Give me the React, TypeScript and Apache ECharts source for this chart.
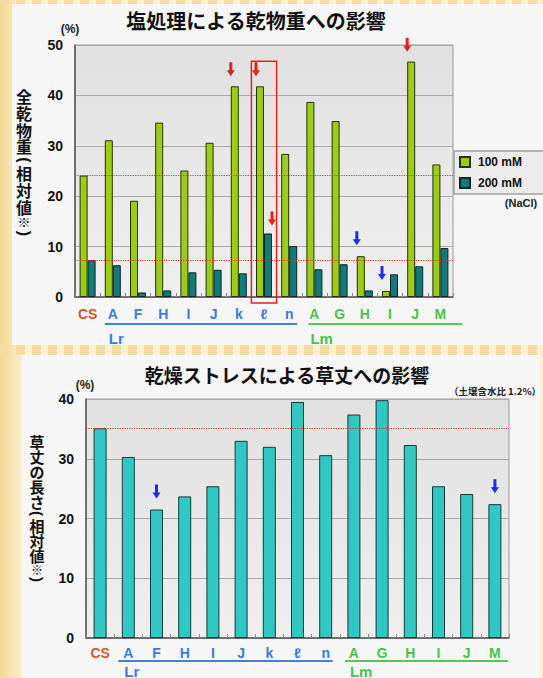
import React, { useEffect, useRef } from "react";
import * as echarts from "echarts";

// ---- data ----
const categories = ["CS", "Lr-A", "Lr-F", "Lr-H", "Lr-I", "Lr-J", "Lr-k", "Lr-ℓ", "Lr-n", "Lm-A", "Lm-G", "Lm-H", "Lm-I", "Lm-J", "Lm-M"];
const tickLabels = ["CS", "A", "F", "H", "I", "J", "k", "ℓ", "n", "A", "G", "H", "I", "J", "M"];
const tickGroups = ["cs", "lr", "lr", "lr", "lr", "lr", "lr", "lr", "lr", "lm", "lm", "lm", "lm", "lm", "lm"];
const groupNames = ["Lr", "Lm"];
const seriesNames = ["100 mM", "200 mM"];
const salt100 = [24.1, 31.1, 19.1, 34.6, 25.1, 30.6, 41.8, 41.8, 28.4, 38.7, 34.9, 8.1, 1.2, 46.7, 26.3];
const salt200 = [7.3, 6.3, 0.9, 1.3, 4.9, 5.4, 4.7, 12.6, 10.1, 5.5, 6.5, 1.3, 4.5, 6.1, 9.7];
const drought = [35.1, 30.3, 21.5, 23.7, 25.4, 33.0, 32.0, 39.5, 30.6, 37.4, 39.8, 32.3, 25.4, 24.1, 22.4];
const saltControlLines = [24.1, 7.2];
const droughtControlLines = [35.1];
const saltAxisTicks = [0, 10, 20, 30, 40, 50];
const droughtAxisTicks = [0, 10, 20, 30, 40];
const redArrows100 = ["Lr-k", "Lr-ℓ", "Lm-J"];
const blueArrows100 = ["Lm-H", "Lm-I"];
const redArrows200 = ["Lr-ℓ"];
const blueArrowsDrought = ["Lr-F", "Lm-M"];
const highlightedCategory = "Lr-ℓ";
const highlightTop = 46.8;

const saltTitle = "塩処理による乾物重への影響";
const droughtTitle = "乾燥ストレスによる草丈への影響";
const saltNote = "(NaCl)";
const droughtNote = "（土壌含水比 1.2%）";
const unitText = "(%)";
const saltYName = ["全", "乾", "物", "重", "(", "相", "対", "値", "※", ")"];
const droughtYName = ["草", "丈", "の", "長", "さ", "(", "相", "対", "値", "※", ")"];

const RED = "#e3221c";
const BLUE = "#1e2ee6";
const ARROW = "path://M2.5,0L5.5,0L5.5,8L8,8L4,14L0,8L2.5,8Z";
const LATIN = "'Liberation Sans', Arial, sans-serif";
const CJK = "'Noto Sans CJK JP', sans-serif";

function arrowPoints(cats: string[], values: number[], color: string, xOff: number, gap: number) {
  return cats.map((c) => ({
    coord: [c, values[categories.indexOf(c)]],
    symbolOffset: [xOff, -(gap + 7)],
    itemStyle: { color },
  }));
}

export default function App() {
  const ref = useRef<HTMLDivElement>(null);
  useEffect(() => {
    if (!ref.current) return;
    const chart = echarts.init(ref.current, undefined, { renderer: "svg" });
    const rich = {
      cs: { color: "#d5552f", fontSize: 14, fontWeight: "bold", fontFamily: LATIN },
      lr: { color: "#3a7bdc", fontSize: 14, fontWeight: "bold", fontFamily: LATIN },
      lm: { color: "#47c447", fontSize: 14, fontWeight: "bold", fontFamily: LATIN },
    };
    const fmt = (v: string) => {
      const i = categories.indexOf(v);
      return `{${tickGroups[i]}|${tickLabels[i]}}`;
    };
    const gridBg = new echarts.graphic.LinearGradient(0, 0, 0, 1, [
      { offset: 0, color: "#e1e1e1" },
      { offset: 1, color: "#efefef" },
    ]);
    const xAxisBase = {
      type: "category",
      data: categories,
      axisLine: { lineStyle: { color: "#555", width: 1.5 } },
      axisTick: { show: true, inside: true, length: 4, interval: 0, lineStyle: { color: "#888" } },
      axisLabel: { interval: 0, formatter: fmt, rich },
      splitLine: { show: false },
    };
    const yAxisBase = (max: number) => ({
      type: "value",
      min: 0,
      max,
      interval: 10,
      axisLine: { show: true, lineStyle: { color: "#555", width: 1.5 } },
      axisTick: { show: false },
      axisLabel: { fontSize: 14, fontWeight: "bold", color: "#111", fontFamily: LATIN, margin: 12 },
      splitLine: { show: true, lineStyle: { color: "#a9a9a9", width: 1 } },
    });
    const refLine = (vals: number[]) => ({
      silent: true,
      symbol: "none",
      label: { show: false },
      lineStyle: { color: "#e8302a", type: "dotted", width: 1.2 },
      data: vals.map((v) => ({ yAxis: v })),
    });

    chart.setOption({
      animation: false,
      backgroundColor: "#fbf0cc",
      grid: [
        { left: 75, top: 45, width: 378, height: 252, show: true, backgroundColor: gridBg, borderColor: "#9a9a9a", borderWidth: 1, outerBoundsMode: "none" },
        { left: 86, top: 399, width: 423, height: 239, show: true, backgroundColor: gridBg, borderColor: "#9a9a9a", borderWidth: 1, outerBoundsMode: "none" },
      ],
      xAxis: [
        { ...xAxisBase, gridIndex: 0, axisLabel: { ...xAxisBase.axisLabel, margin: 10 } },
        { ...xAxisBase, gridIndex: 1, axisLabel: { ...xAxisBase.axisLabel, margin: 8 } },
      ],
      yAxis: [
        { ...yAxisBase(saltAxisTicks[saltAxisTicks.length - 1]), gridIndex: 0 },
        { ...yAxisBase(droughtAxisTicks[droughtAxisTicks.length - 1]), gridIndex: 1 },
      ],
      legend: {
        data: seriesNames,
        orient: "vertical",
        left: 454,
        top: 151,
        itemWidth: 10,
        itemHeight: 10,
        itemGap: 9,
        padding: [5, 40, 5, 5],
        backgroundColor: "#ececec",
        borderColor: "#a0a0a0",
        borderWidth: 1.5,
        icon: "rect",
        textStyle: { fontSize: 12, fontWeight: "bold", color: "#111", fontFamily: LATIN, padding: [0, 0, 0, 3] },
      },
      series: [
        {
          name: seriesNames[0],
          type: "bar",
          xAxisIndex: 0,
          yAxisIndex: 0,
          data: salt100,
          barWidth: 8,
          barGap: "0%",
          itemStyle: { color: "#9dcc17", borderColor: "#24320c", borderWidth: 1 },
          markLine: refLine(saltControlLines),
          markPoint: {
            symbol: ARROW,
            symbolSize: [8, 14],
            label: { show: false },
            silent: true,
            data: [
              ...arrowPoints(redArrows100, salt100, RED, -4, 10),
              ...arrowPoints(blueArrows100, salt100, BLUE, -4, 11),
            ],
          },
        },
        {
          name: seriesNames[1],
          type: "bar",
          xAxisIndex: 0,
          yAxisIndex: 0,
          data: salt200,
          barWidth: 8,
          barGap: "0%",
          itemStyle: { color: "#127a7a", borderColor: "#0a2626", borderWidth: 1 },
          markPoint: {
            symbol: ARROW,
            symbolSize: [8, 14],
            label: { show: false },
            silent: true,
            data: arrowPoints(redArrows200, salt200, RED, 4, 8),
          },
        },
        {
          name: "草丈",
          type: "bar",
          xAxisIndex: 1,
          yAxisIndex: 1,
          data: drought,
          barWidth: 13,
          itemStyle: { color: "#31c7c2", borderColor: "#163a39", borderWidth: 1 },
          markLine: refLine(droughtControlLines),
          markPoint: {
            symbol: ARROW,
            symbolSize: [8, 14],
            label: { show: false },
            silent: true,
            data: arrowPoints(blueArrowsDrought, drought, BLUE, 0, 11),
          },
        },
      ],
    });

    // annotations derived from axes
    const px = (g: number, cat: string, v: number) =>
      chart.convertToPixel({ xAxisIndex: g, yAxisIndex: g }, [cat, v]) as number[];
    const catW = (g: number) => px(g, categories[1], 0)[0] - px(g, categories[0], 0)[0];
    const firstOf = (grp: string) => categories[tickGroups.indexOf(grp)];
    const lastOf = (grp: string) => categories[tickGroups.lastIndexOf(grp)];

    const graphics: any[] = [];
    // background decoration
    graphics.push({
      type: "rect", z: -20, silent: true,
      shape: { x: 0, y: 0, width: 24, height: 678 },
      style: { fill: new echarts.graphic.LinearGradient(0, 0, 1, 0, [{ offset: 0, color: "#f1d995" }, { offset: 1, color: "#fbf1d2" }]) },
    });
    graphics.push({
      type: "line", z: -19, silent: true,
      shape: { x1: 0, y1: 350, x2: 543, y2: 350 },
      style: { stroke: "#f2dea4", lineWidth: 10, lineDash: [9, 7] },
    });
    graphics.push({
      type: "line", z: -19, silent: true,
      shape: { x1: 0, y1: 2, x2: 543, y2: 2 },
      style: { stroke: "#f2dea4", lineWidth: 4, lineDash: [9, 7] },
    });
    graphics.push({ type: "rect", z: -10, silent: true, shape: { x: 12, y: 4, width: 540, height: 341 }, style: { fill: "#f6f6f6" } });
    graphics.push({ type: "rect", z: -10, silent: true, shape: { x: 22, y: 355, width: 518, height: 330 }, style: { fill: "#f6f6f6" } });

    // titles and units
    graphics.push({ type: "text", x: 256, y: 20, style: { text: saltTitle, font: `bold 20px ${CJK}`, fill: "#111", align: "center", verticalAlign: "middle" } });
    graphics.push({ type: "text", x: 287, y: 374, style: { text: droughtTitle, font: `bold 19px ${CJK}`, fill: "#111", align: "center", verticalAlign: "middle" } });
    graphics.push({ type: "text", x: 70, y: 29, style: { text: unitText, font: `bold 12px ${LATIN}`, fill: "#222", align: "center", verticalAlign: "middle" } });
    graphics.push({ type: "text", x: 85, y: 385, style: { text: unitText, font: `bold 12px ${LATIN}`, fill: "#222", align: "center", verticalAlign: "middle" } });
    graphics.push({ type: "text", x: 521, y: 203, style: { text: saltNote, font: `bold 11px ${LATIN}`, fill: "#222", align: "center", verticalAlign: "middle" } });
    graphics.push({ type: "text", x: 495, y: 391, style: { text: droughtNote, font: `bold 9.5px ${CJK}`, fill: "#222", align: "center", verticalAlign: "middle" } });

    // vertical axis names, one character at a time
    const vertName = (chars: string[], x: number, y0: number, fs: number, step: number) => {
      let y = y0;
      chars.forEach((ch) => {
        const paren = ch === "(" || ch === ")";
        const h = paren ? step * 0.6 : ch === "※" ? step * 0.8 : step;
        const size = ch === "※" ? fs - 3 : fs;
        graphics.push({
          type: "text",
          x,
          y: y + h / 2,
          rotation: paren ? -Math.PI / 2 : 0,
          style: {
            text: ch,
            font: `bold ${size}px ${paren ? LATIN : CJK}`,
            lineHeight: paren ? size : Math.min(h - 0.5, size),
            fill: "#111",
            align: "center",
            verticalAlign: "middle",
          },
        });
        y += h;
      });
    };
    vertName(saltYName, 24, 88, 16, 16.7);
    vertName(droughtYName, 37, 434, 15, 15);

    // highlight rectangle
    const hl = px(0, highlightedCategory, highlightTop);
    const hl0 = px(0, highlightedCategory, 0);
    const w0 = catW(0);
    graphics.push({
      type: "rect", z: 50, silent: true,
      shape: { x: hl[0] - w0 / 2, y: hl[1], width: w0, height: hl0[1] - hl[1] + 6 },
      style: { fill: "none", stroke: "#e3221c", lineWidth: 1.5 },
    });

    // group underlines and names
    const groupDeco = (g: number, lineDy: number, textDy: number, pads: number[][]) => {
      ["lr", "lm"].forEach((grp, k) => {
        const a = px(g, firstOf(grp), 0);
        const b = px(g, lastOf(grp), 0);
        const color = grp === "lr" ? "#3f80da" : "#55c955";
        graphics.push({
          type: "line", z: 50, silent: true,
          shape: { x1: a[0] + pads[k][0], y1: a[1] + lineDy, x2: b[0] + pads[k][1], y2: a[1] + lineDy },
          style: { stroke: color, lineWidth: 2 },
        });
        graphics.push({
          type: "text", z: 50, x: a[0] - 4, y: a[1] + textDy,
          style: { text: groupNames[k], font: `bold 15px ${LATIN}`, fill: grp === "lr" ? "#3a7bdc" : "#47c447", align: "left", verticalAlign: "middle" },
        });
      });
    };
    groupDeco(0, 27, 41, [[-8, 8], [-6, 22]]);
    groupDeco(1, 23, 33, [[-10, 7], [-9, 13]]);

    chart.setOption({ graphic: graphics });
    return () => chart.dispose();
  }, []);
  return <div ref={ref} style={{ position: "fixed", left: 0, top: 0, width: 543, height: 678 }} />;
}
